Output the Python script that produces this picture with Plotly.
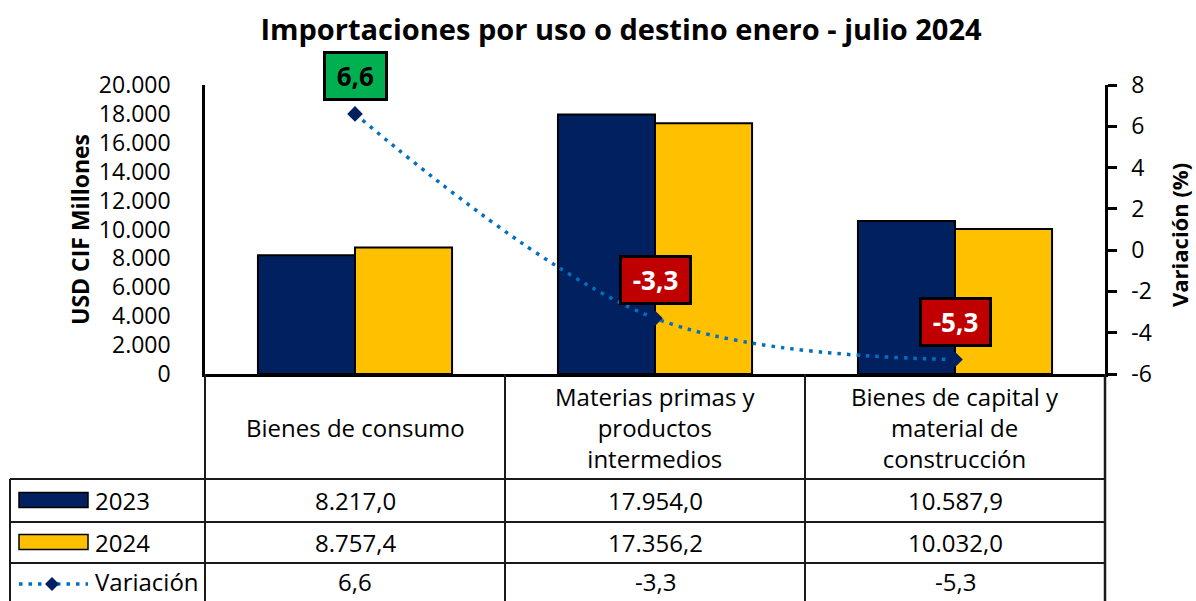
import plotly.graph_objects as go

categories = ["Bienes de consumo", "Materias primas y<br>productos<br>intermedios",
              "Bienes de capital y<br>material de<br>construcción"]
values_2023 = [8217.0, 17954.0, 10587.9]
values_2024 = [8757.4, 17356.2, 10032.0]
variacion = [6.6, -3.3, -5.3]
y_ticks = [0, 2000, 4000, 6000, 8000, 10000, 12000, 14000, 16000, 18000, 20000]
y2_ticks = [-6, -4, -2, 0, 2, 4, 6, 8]
series_names = ["2023", "2024", "Variación"]

NAVY = "#002060"
GOLD = "#FFC000"
BLUE = "#0070C0"
FONT = "Open Sans"

def fmt_es(v, d):
    s = f"{v:,.{d}f}"
    return s.replace(",", "X").replace(".", ",").replace("X", ".")

# pixel geometry of plot area
L, R, T, B = 205, 1105, 85, 374
W, H = R - L, B - T
def px(x):
    return (x - L) / W
def py(y):
    return (B - y) / H

xs = [0, 1, 2]
fig = go.Figure()
fig.add_trace(go.Bar(x=xs, y=values_2023, name=series_names[0], marker=dict(color=NAVY, line=dict(color="black", width=2))))
fig.add_trace(go.Bar(x=xs, y=values_2024, name=series_names[1], marker=dict(color=GOLD, line=dict(color="black", width=2))))
fig.add_trace(go.Scatter(x=xs, y=variacion, name=series_names[2], yaxis="y2", mode="lines+markers",
                         line=dict(color=BLUE, width=3.5, dash="3.5px,6px", shape="spline", smoothing=1),
                         marker=dict(symbol="diamond", size=12, color=NAVY)))

annotations = []
# data labels for variation
for i, v in enumerate(variacion):
    pos = v >= 0
    annotations.append(dict(x=xs[i], y=v, xref="x", yref="y2", yshift=38, showarrow=False,
                            xanchor="center", yanchor="middle",
                            text=f"<b>&nbsp;{fmt_es(v, 1)}&nbsp;</b>",
                            font=dict(family=FONT, size=26, color="black" if pos else "white"),
                            bgcolor="#00B050" if pos else "#C00000",
                            bordercolor="black", borderwidth=3, borderpad=4))

# axis titles
annotations.append(dict(x=px(80), y=py(230), xref="paper", yref="paper", showarrow=False, textangle=-90,
                        xanchor="center", yanchor="middle",
                        text="<b>USD CIF Millones</b>", font=dict(family=FONT, size=23, color="black")))
annotations.append(dict(x=px(1179), y=py(235), xref="paper", yref="paper", showarrow=False, textangle=-90,
                        xanchor="center", yanchor="middle",
                        text="<b>Variación (%)</b>", font=dict(family=FONT, size=22, color="black")))

# table contents
col_centers = [355, 655, 955]
row_centers = {"cat": 427, "2023": 500, "2024": 542, "var": 581}
tfont = dict(family=FONT, size=24, color="black")
def cell(x, y, text, xanchor="center"):
    annotations.append(dict(x=px(x), y=py(y), xref="paper", yref="paper", xanchor=xanchor, yanchor="middle",
                            showarrow=False, text=text, font=tfont, align="center"))
for i, c in enumerate(categories):
    cell(col_centers[i], row_centers["cat"], c)
    cell(col_centers[i], row_centers["2023"], fmt_es(values_2023[i], 1))
    cell(col_centers[i], row_centers["2024"], fmt_es(values_2024[i], 1))
    cell(col_centers[i], row_centers["var"], fmt_es(variacion[i], 1))
for key, name in zip(["2023", "2024", "var"], series_names):
    cell(93, row_centers[key], name, xanchor="left")

shapes = []
LC = "#1a1a1a"
def hline(x0, x1, y, w=2):
    shapes.append(dict(type="line", xref="paper", yref="paper", x0=px(x0), x1=px(x1), y0=py(y), y1=py(y),
                       line=dict(color=LC, width=w)))
def vline(x, y0, y1, w=2):
    shapes.append(dict(type="line", xref="paper", yref="paper", x0=px(x), x1=px(x), y0=py(y0), y1=py(y1),
                       line=dict(color=LC, width=w)))
BOT = 605
for y in [479, 522, 563]:
    hline(10, 1105, y)
vline(10, 479, BOT)
vline(205, 374, BOT)
vline(505, 374, BOT)
vline(805, 374, BOT)
vline(1105, 374, BOT, 2.5)

# legend keys
for yc, col in [(row_centers["2023"], NAVY), (row_centers["2024"], GOLD)]:
    shapes.append(dict(type="rect", xref="paper", yref="paper", x0=px(19), x1=px(88), y0=py(yc - 7.5), y1=py(yc + 7.5),
                       fillcolor=col, line=dict(color="black", width=1.5)))
yv = 584
shapes.append(dict(type="line", xref="paper", yref="paper", x0=px(19), x1=px(88), y0=py(yv), y1=py(yv),
                   line=dict(color=BLUE, width=3.5, dash="3.5px,6px")))
d = 7
shapes.append(dict(type="path", xref="paper", yref="paper",
                   path=f"M {px(52-d)},{py(yv)} L {px(52)},{py(yv-d)} L {px(52+d)},{py(yv)} L {px(52)},{py(yv+d)} Z",
                   fillcolor=NAVY, line=dict(color=NAVY, width=0)))

fig.update_layout(
    width=1196, height=601,
    margin=dict(l=L, r=1196 - R, t=T, b=601 - B, autoexpand=False),
    paper_bgcolor="white", plot_bgcolor="white",
    barmode="group", bargap=0.353, bargroupgap=0,
    showlegend=False,
    separators=",.",
    font=dict(family=FONT, size=22, color="black"),
    title=dict(text="<b>Importaciones por uso o destino enero - julio 2024</b>", x=621 / 1196, xanchor="center",
               y=1 - 30 / 601, yanchor="middle", font=dict(family=FONT, size=29, color="black")),
    xaxis=dict(type="linear", range=[-0.5, 2.5], showticklabels=False, showgrid=False, zeroline=False,
               showline=True, linecolor="black", linewidth=2.5, ticks=""),
    yaxis=dict(range=[0, 20000], tickvals=y_ticks, ticktext=[fmt_es(v, 0) for v in y_ticks],
               showgrid=False, zeroline=False, showline=True, linecolor="black", linewidth=2.5,
               ticks="", ticklabelstandoff=27, tickfont=dict(family=FONT, size=23, color="black")),
    yaxis2=dict(range=[-6, 8], overlaying="y", side="right", tickvals=y2_ticks, ticktext=[str(v) for v in y2_ticks],
                showgrid=False, zeroline=False, showline=True, linecolor="black", linewidth=2.5,
                ticks="outside", ticklen=9, tickwidth=2.5, tickcolor="black", ticklabelstandoff=10,
                tickfont=dict(family=FONT, size=23, color="black")),
    annotations=annotations,
    shapes=shapes,
)

fig.write_html("out.html")
